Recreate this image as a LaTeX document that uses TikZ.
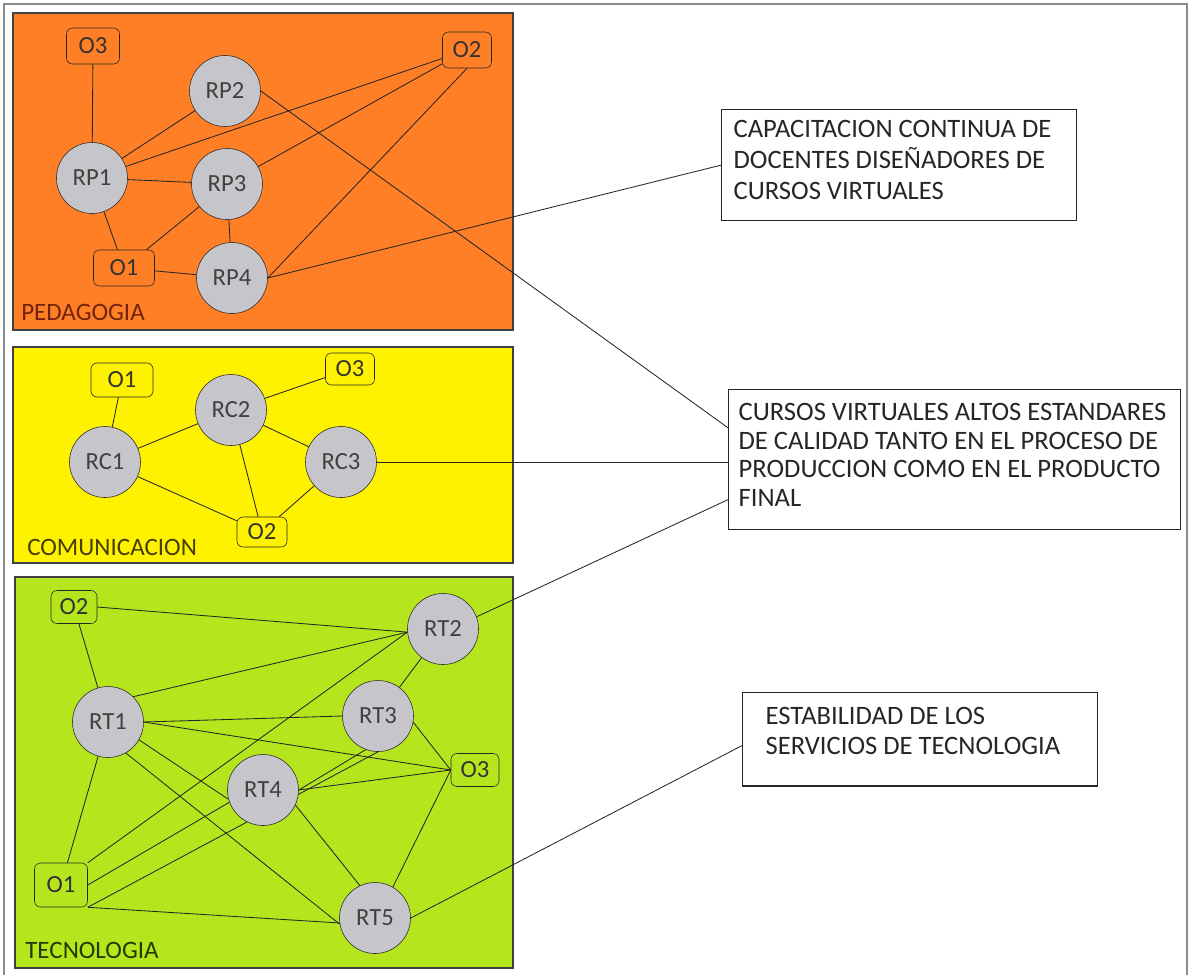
\documentclass[tikz,border=0pt]{standalone}
\usepackage{fontspec}
\setmainfont{Carlito}
\usetikzlibrary{calc}

\definecolor{pedorange}{RGB}{255,127,39}
\definecolor{comyellow}{RGB}{255,242,0}
\definecolor{tecgreen}{RGB}{181,230,29}
\definecolor{nodegray}{RGB}{198,198,202}
\definecolor{framegray}{RGB}{140,140,140}
\definecolor{pedtext}{RGB}{115,35,12}
\definecolor{comtext}{RGB}{70,62,0}
\definecolor{tectext}{RGB}{30,60,0}

\newcommand{\pxu}{0.025cm}

\pgfdeclarelayer{bg}
\pgfdeclarelayer{links}
\pgfsetlayers{bg,links,main}

\tikzset{
  rnode/.style={circle, draw=black!85, fill=nodegray, minimum size=71*\pxu, inner sep=0pt,
    text=black!75, font=\fontsize{17.5}{20}\selectfont},
  onode/.style={draw=black!85, rounded corners=0.15cm, minimum width=50*\pxu, minimum height=34*\pxu,
    inner sep=0pt, text=black!80, font=\fontsize{17.5}{20}\selectfont},
  area/.style={draw=black!75, line width=0.8pt},
  arealabel/.style={anchor=west, inner sep=0pt, font=\fontsize{17.8}{20}\selectfont},
  link/.style={draw=black!85, line width=0.6pt},
  infobox/.style={draw=black!85, line width=0.9pt, fill=white, anchor=north west,
    text=black!85, font=\fontsize{18.9}{22}\selectfont}
}

\begin{document}
\begin{tikzpicture}[x=0.025cm, y=-0.025cm]
\useasboundingbox (0,0) rectangle (1189,975);

% frame and areas
\begin{pgfonlayer}{bg}
\draw[framegray, line width=1.4pt] (4,975) -- (4,4) -- (1187,4) -- (1187,975);
\draw[area, fill=pedorange] (13,13) rectangle (513,330);
\draw[area, fill=comyellow] (13,347) rectangle (513,563);
\draw[area, fill=tecgreen] (15,577) rectangle (513,968);
\end{pgfonlayer}

\node[arealabel, text=pedtext] (lped) at (21,312) {PEDAGOGIA};
\node[arealabel, text=comtext] (lcom) at (27,547) {COMUNICACION};
\node[arealabel, text=tectext] (ltec) at (25,950) {TECNOLOGIA};

% Pedagogia
\node[onode, minimum width=53*\pxu, minimum height=36*\pxu] (pO3) at (93,46) {O3};
\node[onode, minimum width=49*\pxu, minimum height=36*\pxu] (pO2) at (467,50) {O2};
\node[rnode] (RP2) at (225,91) {RP2};
\node[rnode] (RP1) at (92,178) {RP1};
\node[rnode] (RP3) at (227,184) {RP3};
\node[rnode] (RP4) at (232,278) {RP4};
\node[onode, minimum width=61*\pxu, minimum height=36*\pxu] (pO1) at (124,268) {O1};

% Comunicacion
\node[onode, minimum width=62*\pxu] (cO1) at (122,380) {O1};
\node[onode, minimum width=49*\pxu, minimum height=32*\pxu] (cO3) at (350,369) {O3};
\node[rnode] (RC2) at (231,410) {RC2};
\node[rnode] (RC1) at (105,462) {RC1};
\node[rnode] (RC3) at (341,462) {RC3};
\node[onode, minimum height=30*\pxu] (cO2) at (262,532) {O2};

% Tecnologia
\node[onode, minimum width=46*\pxu, minimum height=33*\pxu] (tO2) at (74,607) {O2};
\node[rnode] (RT2) at (443,629) {RT2};
\node[rnode] (RT1) at (108,722) {RT1};
\node[rnode] (RT3) at (378,716) {RT3};
\node[onode, minimum width=48*\pxu, minimum height=33*\pxu] (tO3) at (475,770) {O3};
\node[rnode] (RT4) at (263,790) {RT4};
\node[onode, minimum width=53*\pxu, minimum height=44*\pxu] (tO1) at (61,885) {O1};
\node[rnode] (RT5) at (375,918) {RT5};

% result boxes
\node[infobox, inner xsep=0.3cm, inner ysep=0.275cm] (cap) at (721,109)
  {\parbox[t][2.225cm][t]{8.275cm}{\raggedright
   CAPACITACION CONTINUA DE\\DOCENTES DISEÑADORES DE\\CURSOS VIRTUALES}};
\node[infobox, inner xsep=0.25cm, inner ysep=0.35cm, font=\fontsize{18.9}{20.3}\selectfont] (cursos) at (728,389)
  {\parbox[t][2.8cm][t]{10.8cm}{\raggedright
   CURSOS VIRTUALES ALTOS ESTANDARES\\DE CALIDAD TANTO EN EL PROCESO DE\\PRODUCCION COMO EN EL PRODUCTO\\FINAL}};
\node[infobox, inner xsep=0.575cm, inner ysep=0.36cm, font=\fontsize{18.9}{21.3}\selectfont] (estab) at (742,692)
  {\parbox[t][1.615cm][t]{7.725cm}{\raggedright
   ESTABILIDAD DE LOS\\SERVICIOS DE TECNOLOGIA}};

% connectors
\begin{pgfonlayer}{links}
\foreach \a/\b in {pO3/RP1, RP1/RP2, RP1/pO2, RP1/RP3, RP1/pO1, RP3/pO2, RP3/pO1, RP3/RP4,
    pO1/RP4, RP4.east/pO2.south}
  \draw[link] (\a) -- (\b);

\foreach \a/\b in {cO1/RC1, RC1/RC2, RC2/cO3, RC2/RC3, RC2/cO2, RC1/cO2, RC3/cO2}
  \draw[link] (\a) -- (\b);

\foreach \a/\b in {tO2/RT1, tO2.east/RT2.185, RT1.north east/RT2.185, tO1.north east/RT2.185,
    RT3.west/RT1.east, RT1.east/tO3.west, RT1.-30/RT4.195, RT1.-60/RT5.190, RT1/tO1, RT2/RT3,
    tO1.east/RT4.200, tO1.south east/RT3.south, RT4.east/RT3.-110, RT4.east/tO3.west,
    RT3.-10/tO3.west, RT4.-25/RT5.115, tO3.west/RT5.60, tO1.south east/RT5.188}
  \draw[link] (\a) -- (\b);

\draw[link] (RP4.east) -- (cap.west);
\draw[link] (RP2.east) -- (cursos.172.7);
\draw[link] (RC3.east) -- (RC3.east -| cursos.west);
\draw[link] (RT2.20) -- (cursos.190.8);
\draw[link] (RT5.east) -- (estab.182.6);
\end{pgfonlayer}
\end{tikzpicture}
\end{document}
